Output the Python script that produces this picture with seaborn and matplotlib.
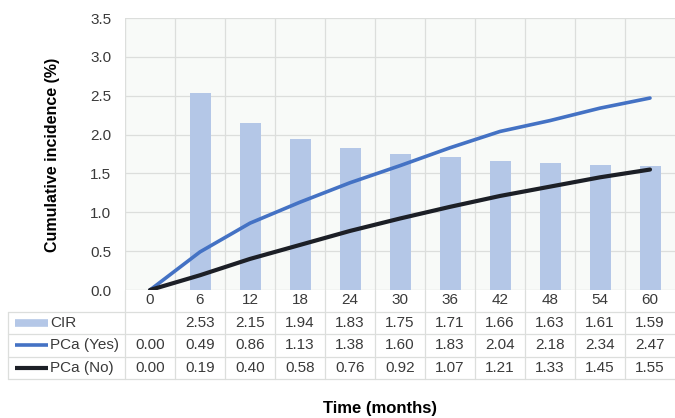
import matplotlib
matplotlib.use("Agg")
import matplotlib.pyplot as plt
from matplotlib.lines import Line2D
from matplotlib.transforms import blended_transform_factory
import seaborn as sns
import numpy as np
import pandas as pd

# data
months = ["0", "6", "12", "18", "24", "30", "36", "42", "48", "54", "60"]
cir = [np.nan, 2.53, 2.15, 1.94, 1.83, 1.75, 1.71, 1.66, 1.63, 1.61, 1.59]
pca_yes = [0.00, 0.49, 0.86, 1.13, 1.38, 1.60, 1.83, 2.04, 2.18, 2.34, 2.47]
pca_no = [0.00, 0.19, 0.40, 0.58, 0.76, 0.92, 1.07, 1.21, 1.33, 1.45, 1.55]

series_names = ["CIR", "PCa (Yes)", "PCa (No)"]
series_vals = [cir, pca_yes, pca_no]

BAR_C = "#b4c7e7"
YES_C = "#4472c4"
NO_C = "#1c1f26"
GRID_C = "#dcdedc"
TXT_C = "#3a3a3a"
FS = 11

sns.set_theme(style="white")
plt.rcParams["font.family"] = ["Liberation Sans", "DejaVu Sans"]

W, H = 675, 418
fig = plt.figure(figsize=(W / 100, H / 100), dpi=100)
ax = fig.add_axes([125 / W, 1 - 290 / H, 550 / W, 272 / H])
ax.set_facecolor("#f8faf8")

df = pd.DataFrame({"month": months, "pos": np.arange(len(months)),
                   "CIR": cir, "yes": pca_yes, "no": pca_no})

sns.barplot(data=df, x="pos", y="CIR", color=BAR_C, width=0.42,
            saturation=1, linewidth=0, ax=ax, native_scale=True)
sns.lineplot(data=df, x="pos", y="yes", color=YES_C, lw=2.6, ax=ax)
sns.lineplot(data=df, x="pos", y="no", color=NO_C, lw=3.0, ax=ax)

ax.set_xlim(-0.5, len(months) - 0.5)
ax.set_ylim(0, 3.5)
ax.set_yticks(np.arange(0, 3.51, 0.5))
ax.set_yticklabels([f"{v:.1f}" for v in np.arange(0, 3.51, 0.5)],
                   fontsize=FS, color=TXT_C)
ax.set_xticks(np.arange(len(months)))
ax.set_xticklabels(months, fontsize=FS, color=TXT_C)
ax.tick_params(axis="x", length=0, pad=2)
ax.tick_params(axis="y", length=0, pad=10)
ax.set_xlabel("")
ax.set_ylabel("")

# grid: horizontal at ticks, vertical at category boundaries
for yv in np.arange(0.5, 3.51, 0.5):
    ax.axhline(yv, color=GRID_C, lw=0.9, zorder=0)
for xb in np.arange(0.5, len(months) - 0.5, 1):
    ax.axvline(xb, color=GRID_C, lw=0.9, zorder=0)
for s in ax.spines.values():
    s.set_visible(False)
ax.axhline(0, color=GRID_C, lw=1.0, zorder=0.5)
ax.axvline(-0.5, color=GRID_C, lw=1.0, zorder=0.5)

# data table below the axes
tr = blended_transform_factory(ax.transData, fig.transFigure)
fy = lambda p: 1 - p / H
fx = lambda p: p / W
row_lines = [312, 334, 357, 379]
row_mid = [323, 345, 368]

for yl in row_lines:
    fig.add_artist(Line2D([fx(8), 1], [fy(yl), fy(yl)], color=GRID_C, lw=0.9))
fig.add_artist(Line2D([fx(8), fx(8)], [fy(312), fy(379)], color=GRID_C, lw=0.9))
for xb in np.arange(-0.5, len(months) - 0.5, 1):
    fig.add_artist(Line2D([xb, xb], [fy(290), fy(379)], color=GRID_C,
                          lw=0.9, transform=tr))

key_styles = [(BAR_C, 5.5), (YES_C, 2.6), (NO_C, 3.0)]
for name, vals, ym, (kc, kw) in zip(series_names, series_vals, row_mid, key_styles):
    fig.add_artist(Line2D([fx(15), fx(48)], [fy(ym), fy(ym)], color=kc,
                          lw=kw, solid_capstyle="butt"))
    fig.text(fx(50), fy(ym), name, fontsize=FS, color=TXT_C,
             ha="left", va="center")
    for i, v in enumerate(vals):
        if np.isnan(v):
            continue
        fig.text(i, fy(ym), f"{v:.2f}", transform=tr, fontsize=FS,
                 color=TXT_C, ha="center", va="center")

fig.text(fx(380), fy(408), "Time (months)", fontsize=12,
         fontweight="bold", ha="center", va="center", color="black")
fig.text(fx(52), fy(155), "Cumulative incidence (%)", fontsize=11.5,
         fontweight="bold", ha="center", va="center", rotation=90, color="black")

fig.savefig("out.png", dpi=100, facecolor="white")
